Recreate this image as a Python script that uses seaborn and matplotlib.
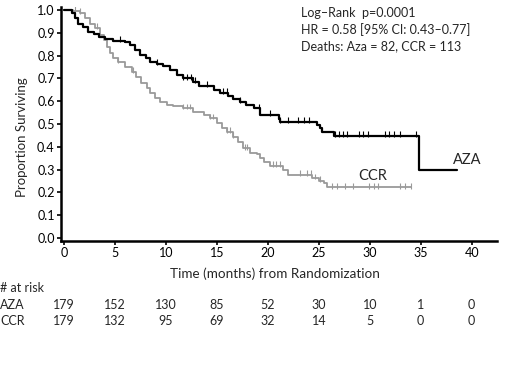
import numpy as np
import pandas as pd
import matplotlib
matplotlib.use("Agg")
import matplotlib.pyplot as plt
import matplotlib.transforms as mtransforms
import seaborn as sns

# ====== Data ======
aza_time = [0, 0.75, 1.08, 1.4, 1.9, 2.4, 2.9, 3.4, 4.0, 4.85, 6.0, 6.5, 7.0, 7.5,
            8.0, 8.45, 9.1, 9.75, 10.4, 11.1, 11.7, 12.7, 13.2, 14.7, 15.3, 16.1,
            16.6, 17.3, 17.9, 18.6, 19.25, 21.1, 21.2, 24.8, 25.15, 25.3, 26.45,
            34.8, 38.6]
aza_surv = [1.0, 0.985, 0.963, 0.94, 0.927, 0.905, 0.893, 0.883, 0.871, 0.864,
            0.861, 0.846, 0.825, 0.803, 0.791, 0.773, 0.762, 0.754, 0.737, 0.715,
            0.70, 0.686, 0.666, 0.649, 0.635, 0.623, 0.608, 0.598, 0.583, 0.569,
            0.539, 0.52, 0.51, 0.496, 0.481, 0.466, 0.447, 0.298, 0.298]

ccr_time = [0, 0.9, 1.57, 2.06, 2.55, 3.05, 3.5, 3.9, 4.2, 4.5, 4.85, 5.3, 6.0,
            6.65, 7.1, 7.6, 8.1, 8.45, 8.9, 9.4, 10.1, 10.7, 11.7, 12.7, 13.7,
            14.3, 15.0, 15.5, 16.0, 16.6, 17.1, 17.6, 18.3, 18.9, 19.25, 19.6,
            20.2, 21.5, 22.0, 24.3, 25.0, 25.5, 25.8, 34.0]
ccr_surv = [1.0, 0.996, 0.986, 0.963, 0.94, 0.92, 0.89, 0.868, 0.839, 0.81, 0.788,
            0.773, 0.751, 0.73, 0.707, 0.678, 0.657, 0.635, 0.613, 0.595, 0.583,
            0.579, 0.569, 0.554, 0.539, 0.525, 0.503, 0.481, 0.466, 0.444, 0.422,
            0.393, 0.374, 0.367, 0.35, 0.335, 0.318, 0.298, 0.276, 0.262, 0.251,
            0.24, 0.222, 0.222]

aza_censor = [5.5, 9.1, 11.7, 12.1, 12.5, 12.9, 14.0, 15.6, 16.0, 17.3, 19.1, 20.2,
              21.2, 22.0, 23.0, 23.5, 24.0, 26.6, 27.0, 27.4, 27.8, 28.9, 29.3,
              29.8, 31.5, 31.9, 32.4, 33.0, 34.5]
ccr_censor = [1.1, 1.6, 3.2, 5.3, 6.8, 11.7, 12.1, 12.4, 14.3, 14.6, 16.0, 16.3,
              16.6, 17.8, 18.0, 20.5, 20.8, 21.2, 23.2, 23.8, 24.2, 24.6, 25.1,
              26.3, 26.8, 27.6, 28.4, 29.9, 30.4, 30.8, 33.0, 33.5, 34.0]

risk_times = [0, 5, 10, 15, 20, 25, 30, 35, 40]
aza_risk = [179, 152, 130, 85, 52, 30, 10, 1, 0]
ccr_risk = [179, 132, 95, 69, 32, 14, 5, 0, 0]

stats_lines = ["Log\u2013Rank  p=0.0001",
               "HR = 0.58 [95% CI: 0.43\u20130.77]",
               "Deaths: Aza = 82, CCR = 113"]


def step_value(t, times, surv):
    idx = np.searchsorted(times, t, side="right") - 1
    return np.asarray(surv)[idx]


curves = pd.concat([
    pd.DataFrame({"time": aza_time, "surv": aza_surv, "arm": "AZA"}),
    pd.DataFrame({"time": ccr_time, "surv": ccr_surv, "arm": "CCR"}),
])
censors = pd.concat([
    pd.DataFrame({"time": aza_censor,
                  "surv": step_value(aza_censor, aza_time, aza_surv), "arm": "AZA"}),
    pd.DataFrame({"time": ccr_censor,
                  "surv": step_value(ccr_censor, ccr_time, ccr_surv), "arm": "CCR"}),
])

sns.set_theme(style="white")
plt.rcParams["font.family"] = ["Lato", "DejaVu Sans"]

palette = {"AZA": "black", "CCR": "#9a9a9a"}

fig = plt.figure(figsize=(5.25, 3.68), dpi=100)
ax = fig.add_axes([0.116, 0.345, 0.831, 0.636])

sns.lineplot(data=curves[curves.arm == "CCR"], x="time", y="surv", color=palette["CCR"],
             drawstyle="steps-post", estimator=None, sort=False, lw=1.3, ax=ax)
sns.lineplot(data=curves[curves.arm == "AZA"], x="time", y="surv", color=palette["AZA"],
             drawstyle="steps-post", estimator=None, sort=False, lw=1.6, ax=ax)
sns.scatterplot(data=censors, x="time", y=censors["surv"] + 0.008, hue="arm",
                palette=palette, marker="|", s=18, linewidth=0.8, legend=False, ax=ax)

ax.set_xlim(-0.3, 42.5)
ax.set_ylim(-0.013, 1.013)
ax.set_xticks(risk_times)
ax.set_yticks(np.arange(0, 1.01, 0.1))
ax.set_yticklabels([f"{v:.1f}" for v in np.arange(0, 1.01, 0.1)])
ax.tick_params(axis="both", direction="out", length=3, width=1.2, labelsize=9,
               color="black", labelcolor="black", pad=1.5, left=True, bottom=True)
for side in ["top", "right"]:
    ax.spines[side].set_visible(False)
for side in ["left", "bottom"]:
    ax.spines[side].set_color("black")
    ax.spines[side].set_linewidth(1.8)
ax.set_xlabel("Time (months) from Randomization", fontsize=9.7)
ax.xaxis.set_label_coords(0.49, -0.111)
ax.set_ylabel("Proportion Surviving", fontsize=9.5)
ax.yaxis.set_label_coords(-0.076, 0.444)

ax.text(38.2, 0.311, "AZA", fontsize=10.5, va="bottom", ha="left")
ax.text(28.9, 0.241, "CCR", fontsize=10.5, va="bottom", ha="left")

for i, line in enumerate(stats_lines):
    fig.text(0.573, 0.982 - i * 0.0453, line, fontsize=9, va="top", ha="left")

# ====== at risk table ======
trans = mtransforms.blended_transform_factory(ax.transData, fig.transFigure)
fig.text(0.0, 0.2166, "# at risk", fontsize=9, va="center", ha="left")
fig.text(0.0, 0.171, "AZA", fontsize=9, va="center", ha="left")
fig.text(0.0, 0.1277, "CCR", fontsize=9, va="center", ha="left")
for t, a, c in zip(risk_times, aza_risk, ccr_risk):
    ax.text(t, 0.171, str(a), transform=trans, fontsize=9, va="center", ha="center",
            clip_on=False)
    ax.text(t, 0.1277, str(c), transform=trans, fontsize=9, va="center", ha="center",
            clip_on=False)

fig.savefig("out.png", dpi=100, facecolor="white")
